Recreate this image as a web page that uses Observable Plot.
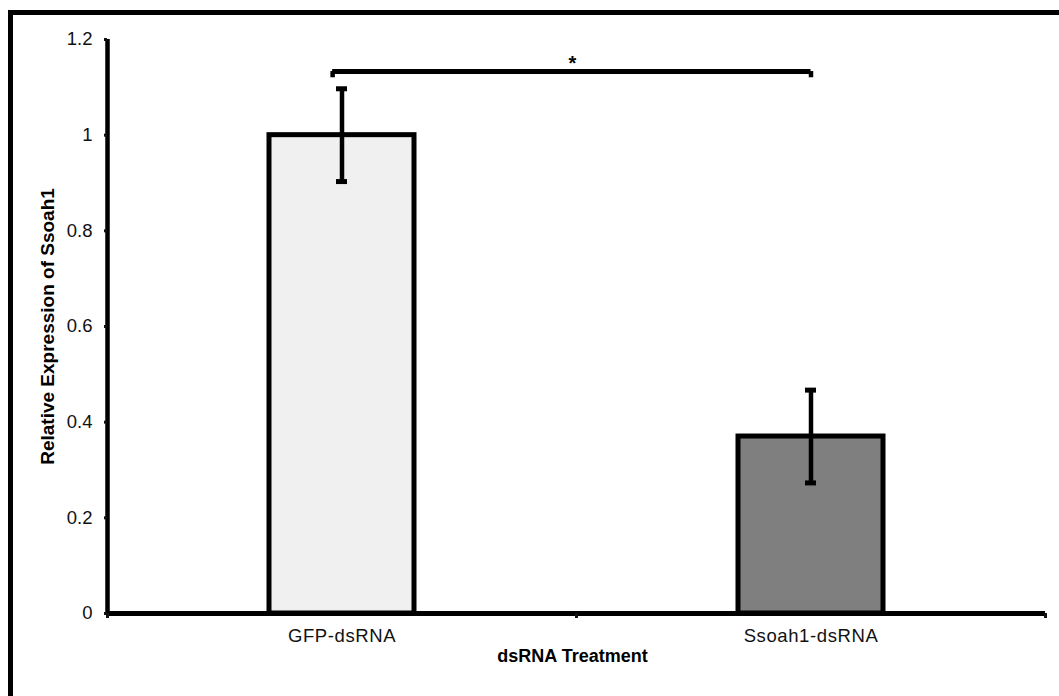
<!DOCTYPE html>
<html>
<head>
<meta charset="utf-8">
<script src="https://cdn.jsdelivr.net/npm/d3@7"></script>
<script src="https://cdn.jsdelivr.net/npm/@observablehq/plot@0.6"></script>
<style>
  html, body { margin: 0; padding: 0; background: #fff; overflow: hidden; }
  #wrap { position: relative; width: 1059px; height: 696px; overflow: hidden; }
  #border { position: absolute; left: 8px; top: 10px; width: 3000px; height: 3000px;
            border-top: 5px solid #000; border-left: 5px solid #000; pointer-events: none; }
  #chart svg { display: block; }
  #chart svg g[aria-label="x-axis tick label"] text { letter-spacing: 0.6px; }
</style>
</head>
<body>
<div id="wrap">
  <div id="chart"></div>
  <div id="border"></div>
</div>
<script>
const categories = ["GFP-dsRNA", "Ssoah1-dsRNA"];
const values = [1.0, 0.37];
const errors = [0.097, 0.097];
const fills = ["#f0f0f0", "#7f7f7f"];
const yTicks = [0, 0.2, 0.4, 0.6, 0.8, 1, 1.2];
const yLabel = "Relative Expression of Ssoah1";
const xLabel = "dsRNA Treatment";
const sigFrom = 0, sigTo = 1, sigY = 1.133, sigTickY = 1.12, sigLabel = "*";

const data = categories.map((c, i) => ({c, i, v: values[i], e: errors[i], fill: fills[i]}));
const bounds = d3.range(categories.length + 1);
const centers = categories.map((c, i) => i + 0.5);

const font = "'Liberation Sans', Arial, Helvetica, sans-serif";

const chart = Plot.plot({
  width: 1059,
  height: 696,
  marginLeft: 107,
  marginRight: 14,
  marginTop: 39,
  marginBottom: 83,
  style: {fontFamily: font, fontSize: "18px", color: "#111", background: "transparent"},
  x: {type: "linear", domain: [0, categories.length]},
  y: {domain: [0, 1.2]},
  marks: [
    Plot.rectY(data, {x1: "i", x2: d => d.i + 1, y1: 0, y2: "v", fill: "fill",
      stroke: "#000", strokeWidth: 5, insetLeft: 162, insetRight: 162}),
    Plot.ruleX(data, {x: d => d.i + 0.5, y1: d => d.v - d.e, y2: d => d.v + d.e,
      stroke: "#000", strokeWidth: 4.5}),
    Plot.ruleY(data, {x1: d => d.i + 0.5, x2: d => d.i + 0.5, y: d => d.v + d.e,
      stroke: "#000", strokeWidth: 5, insetLeft: -5.5, insetRight: -5.5}),
    Plot.ruleY(data, {x1: d => d.i + 0.5, x2: d => d.i + 0.5, y: d => d.v - d.e,
      stroke: "#000", strokeWidth: 5, insetLeft: -5.5, insetRight: -5.5}),
    // significance bracket
    Plot.ruleY([sigY], {x1: centers[sigFrom] - 0.02, x2: centers[sigTo], stroke: "#000", strokeWidth: 5}),
    Plot.ruleX([centers[sigFrom] - 0.02, centers[sigTo]], {y1: sigTickY, y2: sigY, stroke: "#000", strokeWidth: 4.5}),
    Plot.text([sigLabel], {x: (centers[sigFrom] + centers[sigTo]) / 2, y: sigY, text: d => d,
      dx: -4, dy: -8, fontSize: 20, fontWeight: "bold", fill: "#000"}),
    // axes lines
    Plot.ruleX([0], {y1: 0, y2: 1.2, stroke: "#000", strokeWidth: 4.5}),
    Plot.ruleY([0], {stroke: "#000", strokeWidth: 5}),
    Plot.axisY({ticks: yTicks, tickSize: 3, tickPadding: 12, strokeWidth: 3, label: null,
      tickFormat: d => String(d), fill: "#111", fontSize: 18.5}),
    Plot.axisX({ticks: bounds, tickSize: 5, tickFormat: () => "", strokeWidth: 3, label: null}),
    Plot.axisX({ticks: centers, tickSize: 0, tickPadding: 15, label: null,
      tickFormat: d => categories[Math.floor(d)], fill: "#111", fontSize: 18.5}),
    Plot.text([yLabel], {frameAnchor: "left", textAnchor: "middle", rotate: -90, dx: -60, text: d => d,
      fontWeight: "bold", fontSize: 19, fill: "#000"}),
    Plot.text([xLabel], {frameAnchor: "bottom", dx: -4, dy: 48, text: d => d,
      fontWeight: "bold", fontSize: 18, fill: "#000"})
  ]
});
document.getElementById("chart").appendChild(chart);
</script>
</body>
</html>
